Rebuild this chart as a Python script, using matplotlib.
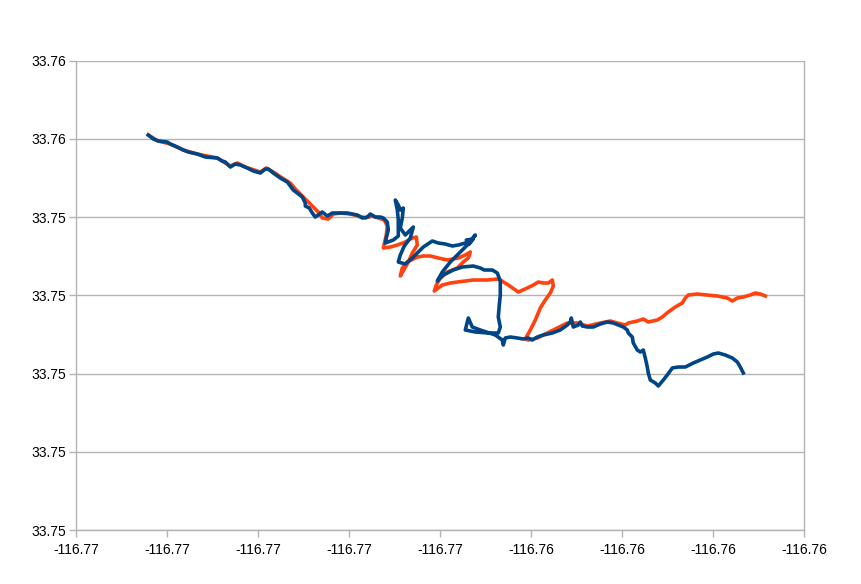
import numpy as np
import matplotlib
matplotlib.use("Agg")
import matplotlib.pyplot as plt
from matplotlib.ticker import FuncFormatter

# track 1 (blue) - longitude / latitude
lon_blue = [-116.76828, -116.76823, -116.76818, -116.76809, -116.76806, -116.76799, -116.76793, -116.76788,
            -116.76779, -116.76771, -116.76759, -116.76754, -116.76751, -116.76746, -116.76741, -116.76736,
            -116.76729, -116.76723, -116.76716, -116.76711, -116.76708, -116.76703, -116.76696, -116.76689,
            -116.76683, -116.76674, -116.76671, -116.76671, -116.76667, -116.76664, -116.76661, -116.76654,
            -116.76649, -116.76644, -116.76638, -116.76629, -116.76624, -116.76619, -116.76614, -116.76609,
            -116.76606, -116.76601, -116.76596, -116.76593, -116.76589, -116.76588, -116.76590, -116.76591,
            -116.76583, -116.76578, -116.76578, -116.76579, -116.76581, -116.76578, -116.76576, -116.76573,
            -116.76574, -116.76576, -116.76571, -116.76566, -116.76563, -116.76566, -116.76572, -116.76576,
            -116.76578, -116.76571, -116.76564, -116.76558, -116.76553, -116.76544, -116.76538, -116.76531,
            -116.76524, -116.76518, -116.76511, -116.76506, -116.76501, -116.76507, -116.76510, -116.76503,
            -116.76516, -116.76526, -116.76534, -116.76539, -116.76533, -116.76523, -116.76514, -116.76503,
            -116.76496, -116.76492, -116.76484, -116.76479, -116.76476, -116.76476, -116.76477, -116.76478,
            -116.76476, -116.76478, -116.76488, -116.76501, -116.76511, -116.76508, -116.76504, -116.76496,
            -116.76481, -116.76474, -116.76473, -116.76471, -116.76466, -116.76459, -116.76453, -116.76448,
            -116.76444, -116.76439, -116.76433, -116.76424, -116.76416, -116.76409, -116.76406, -116.76405,
            -116.76403, -116.76398, -116.76396, -116.76394, -116.76389, -116.76383, -116.76376, -116.76369,
            -116.76363, -116.76358, -116.76353, -116.76349, -116.76348, -116.76344, -116.76343, -116.76339,
            -116.76336, -116.76333, -116.76331, -116.76329, -116.76328, -116.76326, -116.76321, -116.76318,
            -116.76313, -116.76309, -116.76304, -116.76298, -116.76291, -116.76283, -116.76276, -116.76269,
            -116.76263, -116.76258, -116.76251, -116.76244, -116.76239, -116.76236, -116.76233]
lat_blue = [33.75545, 33.75541, 33.75539, 33.75538, 33.75536, 33.75533, 33.75530, 33.75528,
            33.75526, 33.75523, 33.75522, 33.75519, 33.75518, 33.75513, 33.75516, 33.75515,
            33.75512, 33.75509, 33.75507, 33.75511, 33.75511, 33.75507, 33.75502, 33.75498,
            33.75490, 33.75483, 33.75477, 33.75474, 33.75472, 33.75467, 33.75463, 33.75468,
            33.75464, 33.75467, 33.75467, 33.75467, 33.75466, 33.75465, 33.75462, 33.75463,
            33.75466, 33.75463, 33.75463, 33.75462, 33.75458, 33.75450, 33.75442, 33.75437,
            33.75440, 33.75444, 33.75460, 33.75470, 33.75480, 33.75475, 33.75470, 33.75472,
            33.75462, 33.75452, 33.75445, 33.75450, 33.75453, 33.75442, 33.75434, 33.75425,
            33.75418, 33.75416, 33.75422, 33.75428, 33.75433, 33.75439, 33.75437, 33.75436,
            33.75434, 33.75435, 33.75437, 33.75439, 33.75445, 33.75436, 33.75440, 33.75441,
            33.75428, 33.75418, 33.75408, 33.75399, 33.75405, 33.75410, 33.75413, 33.75414,
            33.75412, 33.75410, 33.75410, 33.75407, 33.75399, 33.75385, 33.75375, 33.75363,
            33.75353, 33.75347, 33.75347, 33.75348, 33.75350, 33.75362, 33.75353, 33.75350,
            33.75345, 33.75340, 33.75335, 33.75342, 33.75343, 33.75342, 33.75341, 33.75342,
            33.75340, 33.75343, 33.75345, 33.75347, 33.75350, 33.75355, 33.75358, 33.75362,
            33.75353, 33.75355, 33.75358, 33.75354, 33.75353, 33.75353, 33.75356, 33.75358,
            33.75357, 33.75355, 33.75353, 33.75350, 33.75347, 33.75343, 33.75337, 33.75330,
            33.75328, 33.75330, 33.75322, 33.75313, 33.75307, 33.75300, 33.75297, 33.75294,
            33.75300, 33.75305, 33.75312, 33.75313, 33.75313, 33.75317, 33.75320, 33.75323,
            33.75326, 33.75327, 33.75325, 33.75322, 33.75318, 33.75313, 33.75307]

# track 2 (orange)
lon_orange = [-116.76828, -116.76818, -116.76806, -116.76793, -116.76779, -116.76759, -116.76751, -116.76746,
              -116.76739, -116.76731, -116.76716, -116.76710, -116.76703, -116.76694, -116.76686, -116.76680,
              -116.76671, -116.76663, -116.76658, -116.76654, -116.76648, -116.76643, -116.76636, -116.76626,
              -116.76618, -116.76611, -116.76604, -116.76598, -116.76592, -116.76589, -116.76590, -116.76593,
              -116.76586, -116.76579, -116.76571, -116.76564, -116.76560, -116.76559, -116.76564, -116.76568,
              -116.76572, -116.76576, -116.76574, -116.76569, -116.76559, -116.76553, -116.76546, -116.76538,
              -116.76529, -116.76518, -116.76511, -116.76506, -116.76508, -116.76513, -116.76519, -116.76529,
              -116.76536, -116.76540, -116.76542, -116.76534, -116.76526, -116.76519, -116.76511, -116.76503,
              -116.76489, -116.76479, -116.76476, -116.76468, -116.76458, -116.76449, -116.76443, -116.76438,
              -116.76433, -116.76428, -116.76424, -116.76423, -116.76426, -116.76431, -116.76436, -116.76441,
              -116.76446, -116.76451, -116.76448, -116.76439, -116.76429, -116.76419, -116.76409, -116.76399,
              -116.76389, -116.76376, -116.76366, -116.76359, -116.76351, -116.76348, -116.76339, -116.76333,
              -116.76328, -116.76319, -116.76314, -116.76308, -116.76301, -116.76294, -116.76291, -116.76288,
              -116.76279, -116.76269, -116.76259, -116.76249, -116.76244, -116.76239, -116.76233, -116.76226,
              -116.76221, -116.76216, -116.76211]
lat_orange = [33.75545, 33.75539, 33.75536, 33.75530, 33.75526, 33.75522, 33.75517, 33.75514,
              33.75517, 33.75513, 33.75508, 33.75512, 33.75508, 33.75502, 33.75497, 33.75490,
              33.75481, 33.75473, 33.75468, 33.75462, 33.75461, 33.75466, 33.75467, 33.75466,
              33.75464, 33.75462, 33.75464, 33.75462, 33.75460, 33.75454, 33.75445, 33.75432,
              33.75433, 33.75435, 33.75438, 33.75442, 33.75443, 33.75435, 33.75427, 33.75418,
              33.75411, 33.75404, 33.75412, 33.75418, 33.75423, 33.75424, 33.75424, 33.75422,
              33.75420, 33.75422, 33.75425, 33.75428, 33.75422, 33.75418, 33.75412, 33.75408,
              33.75402, 33.75395, 33.75389, 33.75395, 33.75397, 33.75398, 33.75399, 33.75400,
              33.75400, 33.75401, 33.75400, 33.75395, 33.75388, 33.75392, 33.75395, 33.75398,
              33.75397, 33.75397, 33.75400, 33.75394, 33.75387, 33.75380, 33.75372, 33.75360,
              33.75350, 33.75341, 33.75340, 33.75342, 33.75347, 33.75352, 33.75357, 33.75357,
              33.75354, 33.75357, 33.75359, 33.75357, 33.75355, 33.75357, 33.75359, 33.75361,
              33.75358, 33.75360, 33.75363, 33.75368, 33.75373, 33.75377, 33.75382, 33.75385,
              33.75386, 33.75385, 33.75384, 33.75382, 33.75379, 33.75382, 33.75383, 33.75385,
              33.75387, 33.75386, 33.75384]

# axis scale (auto scale of the original chart)
x_min, x_step, x_n = -116.76900, 0.00091, 8
y_min, y_step, y_n = 33.75150, 0.0007822, 6

plt.rcParams['font.family'] = ['Liberation Sans', 'DejaVu Sans']

fig = plt.figure(figsize=(8.61, 5.84), dpi=100)
ax = fig.add_axes([76.3 / 861, 54 / 584, 728 / 861, 469.3 / 584])

ax.plot(lon_orange, lat_orange, color='#ff420e', lw=2.6, solid_joinstyle='round', zorder=3)
ax.plot(lon_blue, lat_blue, color='#004586', lw=2.6, solid_joinstyle='round', zorder=4)

xt = x_min + x_step * np.arange(x_n + 1)
yt = y_min + y_step * np.arange(y_n + 1)
ax.set_xlim(xt[0], xt[-1])
ax.set_ylim(yt[0], yt[-1])
ax.set_xticks(xt)
ax.set_yticks(yt)
ax.xaxis.set_major_formatter(FuncFormatter(lambda v, p: f"{v:.2f}"))
ax.yaxis.set_major_formatter(FuncFormatter(lambda v, p: f"{v:.2f}"))

ax.grid(axis='y', color='#b3b3b3', lw=1)
ax.set_axisbelow(True)
for s in ax.spines.values():
    s.set_color('#b3b3b3')
    s.set_linewidth(1)
ax.spines['top'].set_visible(False)
ax.tick_params(axis='both', color='#b3b3b3', length=5, width=1, labelsize=10, labelcolor='black')
ax.tick_params(axis='x', pad=4)
ax.tick_params(axis='y', pad=2)

fig.savefig('out.png', dpi=100)
